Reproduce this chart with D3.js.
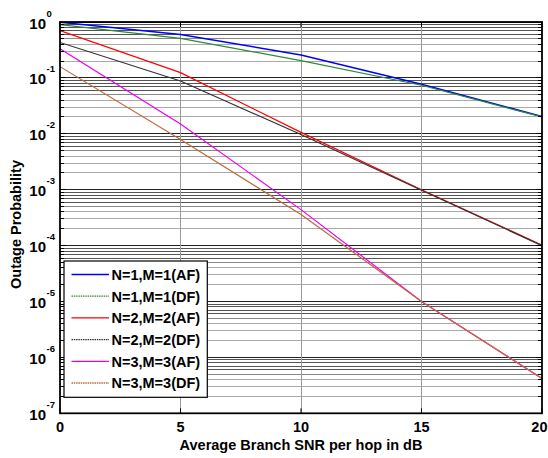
<!DOCTYPE html>
<html><head><meta charset="utf-8">
<script src="https://cdn.jsdelivr.net/npm/d3@7"></script>
<style>body{margin:0;background:#fff}svg{display:block;font-family:"Liberation Sans",Arial,sans-serif;font-weight:bold}</style>
</head><body>
<script>
const snr = [0, 5, 10, 15, 20];
const af1 = [0.99, 0.60, 0.257, 0.077, 0.0204];
const df1 = [0.90, 0.51, 0.204, 0.074, 0.0200];
const af2 = [0.70, 0.124, 0.0106, 0.00100, 0.000102];
const df2 = [0.43, 0.088, 0.0097, 0.00098, 0.000100];
const af3 = [0.333, 0.015, 0.00044, 0.0000100, 4.2e-7];
const df3 = [0.159, 0.0079, 0.00036, 0.0000100, 4.2e-7];
const seriesNames = ["N=1,M=1(AF)","N=1,M=1(DF)","N=2,M=2(AF)","N=2,M=2(DF)","N=3,M=3(AF)","N=3,M=3(DF)"];
const seriesColors = ["#0000ff","#2e8b2e","#ff0000","#333333","#ee00ee","#c0683a"];
const seriesData = [af1, df1, af2, df2, af3, df3];
const xTicks = [0, 5, 10, 15, 20];
const yExps = [0, -1, -2, -3, -4, -5, -6, -7];

const W = 548, H = 458;
const L = 60, R = 542, T = 22, B = 413.3;
const svg = d3.select("body").append("svg").attr("width", W).attr("height", H);
const x = d3.scaleLinear().domain([0, 20]).range([L, R]);
const y = d3.scaleLog().domain([1e-7, 1]).range([B, T]);

// horizontal grid
const gridY = [];
for (let k = -7; k < 0; k++) for (let m = 1; m <= 9; m++) gridY.push({v: m * Math.pow(10, k), m});
gridY.push({v: 1, m: 1});
const gcol = m => m === 1 ? "#222" : m >= 6 ? "#555" : m === 5 ? "#888" : "#aaa";
svg.append("g").selectAll("line").data(gridY).join("line")
  .attr("x1", L).attr("x2", R)
  .attr("y1", d => y(d.v)).attr("y2", d => y(d.v))
  .attr("stroke", d => gcol(d.m)).attr("stroke-width", 1).attr("shape-rendering","crispEdges");
// vertical grid
svg.append("g").selectAll("line").data(xTicks.slice(1, -1)).join("line")
  .attr("x1", d => x(d)).attr("x2", d => x(d)).attr("y1", T).attr("y2", B)
  .attr("stroke", "#999").attr("stroke-width", 1).attr("shape-rendering","crispEdges");

// curves
svg.append("defs").append("clipPath").attr("id","clip").append("rect")
  .attr("x", L).attr("y", T).attr("width", R - L).attr("height", B - T);
const line = d3.line().x((d, i) => x(snr[i])).y(d => y(d));
svg.append("g").attr("clip-path","url(#clip)").selectAll("path").data(seriesData).join("path")
  .attr("d", d => line(d)).attr("fill","none")
  .attr("stroke", (d, i) => seriesColors[i]).attr("stroke-width", (d,i)=> i===0?1.5:1.2);

// axes (ticks inward)
const minorVals = gridY.map(d => d.v);
function ticksY(xPos, dir) {
  svg.append("g").selectAll("line").data(minorVals).join("line")
    .attr("x1", xPos).attr("x2", d => xPos + dir * (minorVals.indexOf(d) % 9 === 0 ? 6 : 4))
    .attr("y1", d => y(d)).attr("y2", d => y(d)).attr("stroke","#000").attr("shape-rendering","crispEdges");
}
ticksY(L, 1); ticksY(R, -1);
svg.append("g").selectAll("line").data(xTicks).join("line")
  .attr("x1", d => x(d)).attr("x2", d => x(d)).attr("y1", B).attr("y2", B - 5).attr("stroke","#000");
svg.append("g").selectAll("line").data(xTicks).join("line")
  .attr("x1", d => x(d)).attr("x2", d => x(d)).attr("y1", T).attr("y2", T + 5).attr("stroke","#000");
svg.append("rect").attr("x", L).attr("y", T).attr("width", R - L).attr("height", B - T)
  .attr("fill","none").attr("stroke","#000").attr("stroke-width", 1.8);

// y tick labels
const yl = svg.append("g").selectAll("g").data(yExps).join("g");
yl.append("text").attr("x", 46).attr("y", d => y(Math.pow(10, d)) + 6.5)
  .attr("text-anchor","end").attr("font-size", 15).text("10");
yl.append("text").attr("x", 46.5).attr("y", d => y(Math.pow(10, d)) - 5.5)
  .attr("font-size", 9.5).text(d => String(d));

// x tick labels (last one kept inside the page edge)
svg.append("g").selectAll("text").data(xTicks).join("text")
  .attr("x", (d, i) => i === xTicks.length - 1 ? W - 0.5 : x(d))
  .attr("y", 431.5)
  .attr("text-anchor", (d, i) => i === xTicks.length - 1 ? "end" : "middle")
  .attr("font-size", 14.5).text(d => d);

// axis titles
svg.append("text").attr("x", (L + R) / 2).attr("y", 449.5).attr("text-anchor","middle")
  .attr("font-size", 14.5).text("Average Branch SNR per hop in dB");
svg.append("text").attr("transform","translate(20.5,224.5) rotate(-90)").attr("text-anchor","middle")
  .attr("font-size", 14.5).text("Outage Probability");

// legend
const lg = svg.append("g");
lg.append("rect").attr("x", 64).attr("y", 261).attr("width", 143.3).attr("height", 136.3)
  .attr("fill","#fff").attr("stroke","#000").attr("stroke-width", 1.2);
const rows = lg.selectAll("g.row").data(seriesNames).join("g").attr("class","row")
  .attr("transform", (d, i) => `translate(0,${274.5 + i * 21.7})`);
rows.append("line").attr("x1", 71.5).attr("x2", 109).attr("y1", 0).attr("y2", 0)
  .attr("stroke", (d, i) => seriesColors[i]).attr("stroke-width", 1.3)
  .attr("stroke-dasharray", (d, i) => i % 2 === 1 ? "1.5,0.8" : null);
rows.append("text").attr("x", 111.5).attr("y", 5.3).attr("font-size", 14.5).text(d => d);
</script>
</body></html>
